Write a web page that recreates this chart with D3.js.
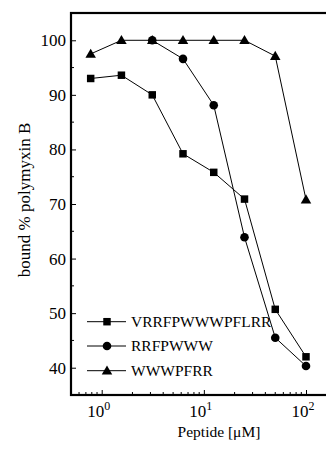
<!DOCTYPE html>
<html>
<head>
<meta charset="utf-8">
<script src="https://cdn.jsdelivr.net/npm/d3@7"></script>
<style>
  body { margin: 0; background: #fff; }
  svg text { font-family: 'Liberation Serif', 'Times New Roman', Times, 'DejaVu Serif', serif; }
</style>
</head>
<body>
<svg id="chart" width="326" height="449"></svg>
<script>
// peptide concentration (uM), twofold dilutions
const concentrations = [0.78, 1.56, 3.125, 6.25, 12.5, 25, 50, 100];
const vrrfValues = [93.0, 93.6, 90.0, 79.2, 75.8, 70.9, 50.7, 42.0];
const rrfpValues = [null, null, 100, 96.6, 88.1, 63.9, 45.5, 40.3];
const wwwpValues = [97.5, 100, 100, 100, 100, 100, 97.1, 70.8];
const seriesNames = ["VRRFPWWWPFLRR", "RRFPWWW", "WWWPFRR"];
const seriesShapes = ["square", "circle", "triangle"];
const yMajorTicks = [40, 50, 60, 70, 80, 90, 100];
const yMinorTicks = [45, 55, 65, 75, 85, 95];
const xMajorTicks = [1, 10, 100];
const xMinorTicks = [0.6, 0.7, 0.8, 0.9, 2, 3, 4, 5, 6, 7, 8, 9, 20, 30, 40, 50, 60, 70, 80, 90];

function buildChart() {
    const left = 71, top = 13, bottom = 395, right = 332;
    const svg = d3.select("#chart");

    const xs = d3.scaleLog().domain([1, 100]).range([101.7, 306]);
    const ys = d3.scaleLinear().domain([35, 105]).range([bottom, top]);

    // y axis ticks (inward)
    const yAxis = svg.append("g").attr("transform", `translate(${left},0)`);
    yAxis.call(d3.axisRight(ys).tickValues(yMajorTicks).tickSize(5).tickFormat(""));
    yAxis.select(".domain").remove();
    yAxis.append("g").selectAll("line").data(yMinorTicks).enter().append("line")
        .attr("x1", 0).attr("x2", 3)
        .attr("y1", d => ys(d)).attr("y2", d => ys(d))
        .attr("stroke", "black");
    svg.append("g").selectAll("text").data(yMajorTicks).enter().append("text")
        .attr("x", left - 5).attr("y", d => ys(d)).attr("dy", "0.35em")
        .attr("text-anchor", "end").attr("font-size", 17)
        .text(d => d);

    // x axis ticks (inward)
    const xAxis = svg.append("g").attr("transform", `translate(0,${bottom})`);
    xAxis.call(d3.axisTop(xs).tickValues(xMajorTicks).tickSize(5).tickFormat(""));
    xAxis.select(".domain").remove();
    xAxis.append("g").selectAll("line").data(xMinorTicks).enter().append("line")
        .attr("x1", d => xs(d)).attr("x2", d => xs(d))
        .attr("y1", 0).attr("y2", -3)
        .attr("stroke", "black");
    const xLabels = svg.append("g").selectAll("text").data(xMajorTicks).enter().append("text")
        .attr("x", d => xs(d) - 3).attr("y", bottom + 22)
        .attr("text-anchor", "middle").attr("font-size", 17);
    xLabels.append("tspan").text("10");
    xLabels.append("tspan").attr("dy", -7).attr("font-size", 12).text(d => Math.round(Math.log10(d)));

    // frame
    svg.append("rect").attr("x", left).attr("y", top)
        .attr("width", right - left).attr("height", bottom - top)
        .attr("fill", "none").attr("stroke", "black").attr("stroke-width", 2.2);

    // axis titles
    svg.append("text").attr("x", 219).attr("y", 437).attr("text-anchor", "middle")
        .attr("font-size", 15.5).text("Peptide [\u03bcM]");
    svg.append("text").attr("transform", "translate(30,200) rotate(-90)")
        .attr("text-anchor", "middle").attr("font-size", 17).text("bound % polymyxin B");

    // series
    const allSeries = [vrrfValues, rrfpValues, wwwpValues];
    const line = d3.line().defined(d => d[1] != null).x(d => xs(d[0])).y(d => ys(d[1]));
    const plot = svg.append("g");
    allSeries.forEach((values, i) => {
        const pts = concentrations.map((c, j) => [c, values[j]]);
        plot.append("path").attr("d", line(pts))
            .attr("fill", "none").attr("stroke", "black").attr("stroke-width", 1);
        drawMarkers(plot, pts.filter(p => p[1] != null).map(p => [xs(p[0]), ys(p[1])]), seriesShapes[i]);
    });

    // legend
    const legendY = [321.7, 346, 370.7];
    const legend = svg.append("g");
    seriesNames.forEach((name, i) => {
        legend.append("line").attr("x1", 87).attr("x2", 126)
            .attr("y1", legendY[i]).attr("y2", legendY[i]).attr("stroke", "black");
        drawMarkers(legend, [[107, legendY[i]]], seriesShapes[i]);
        legend.append("text").attr("x", 131).attr("y", legendY[i]).attr("dy", "0.35em")
            .attr("font-size", 15.5).text(name);
    });
}

function drawMarkers(g, points, shape) {
    const sym = {
        square: d3.symbol().type(d3.symbolSquare).size(56),
        circle: d3.symbol().type(d3.symbolCircle).size(58),
        triangle: d3.symbol().type(d3.symbolTriangle).size(48)
    }[shape];
    g.append("g").selectAll("path").data(points).enter().append("path")
        .attr("transform", d => `translate(${d[0]},${d[1] + (shape == "triangle" ? 0.8 : 0)})`)
        .attr("d", sym())
        .attr("fill", "black");
}

buildChart();
</script>
</body>
</html>
